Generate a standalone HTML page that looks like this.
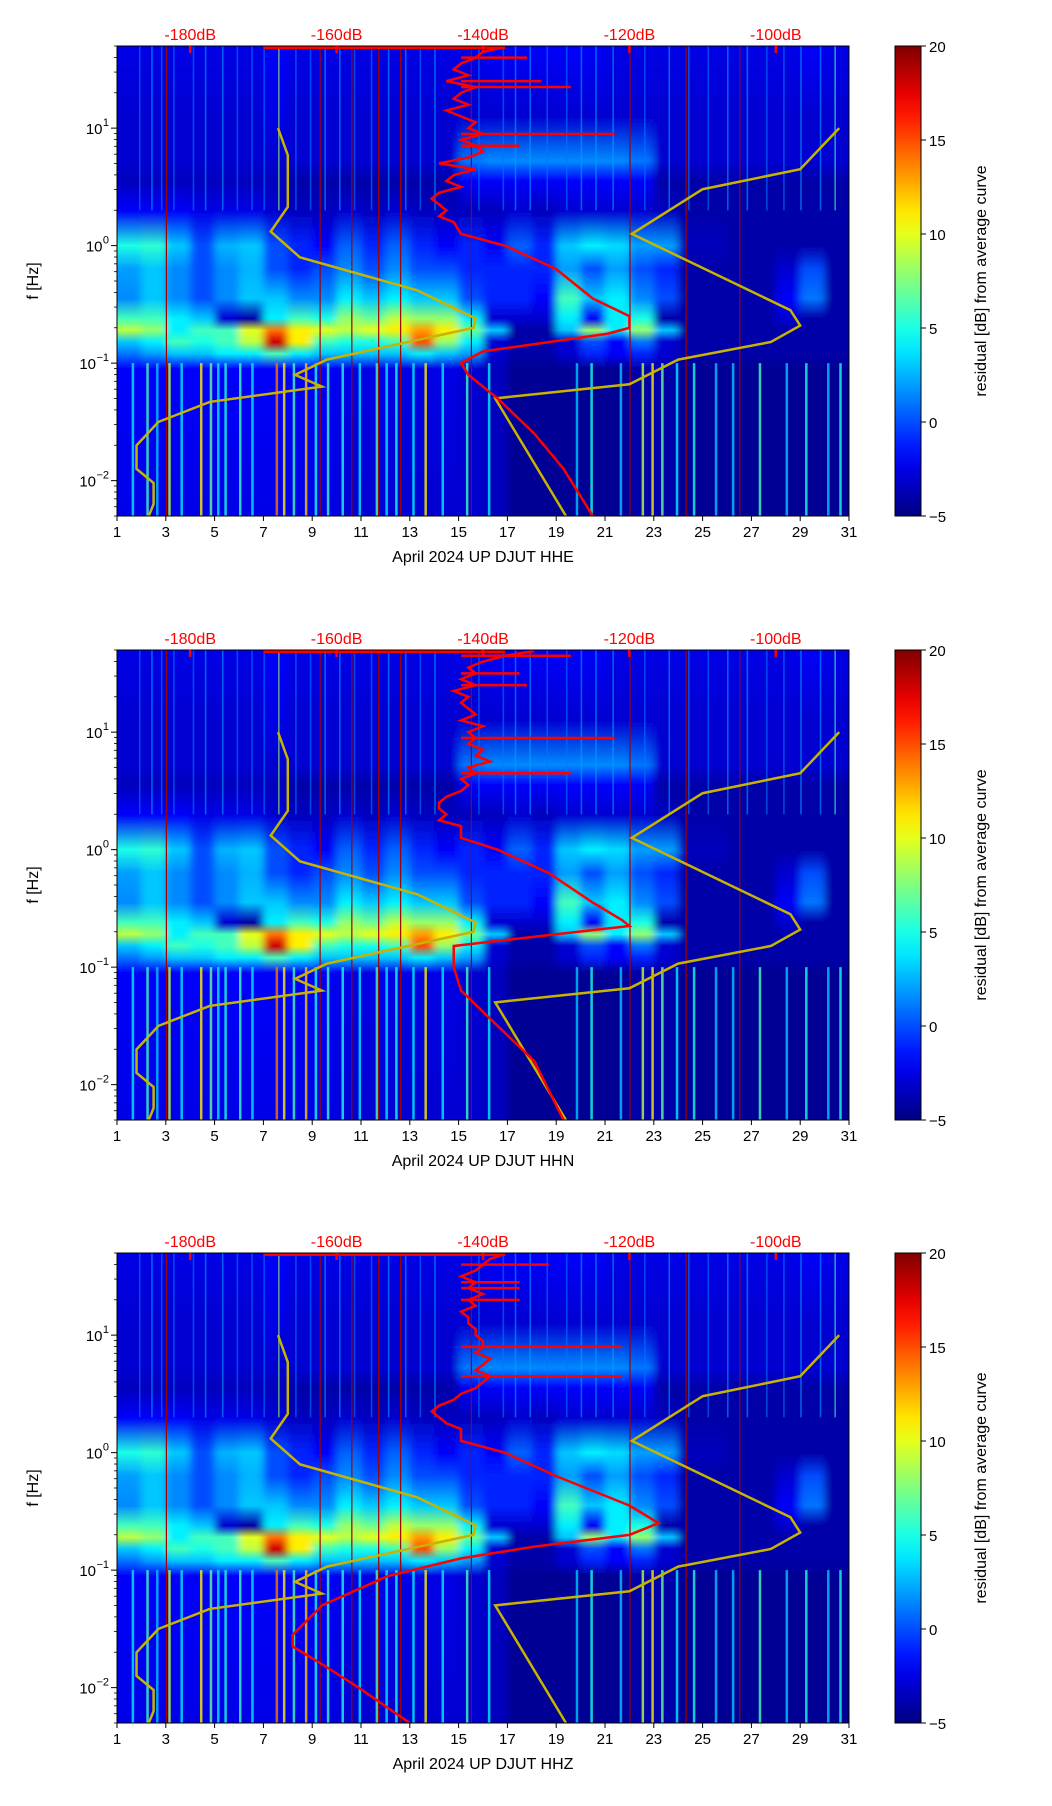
<!DOCTYPE html>
<html><head><meta charset="utf-8"><style>
html,body{margin:0;padding:0;background:#fff}
svg{display:block;font-family:"Liberation Sans","DejaVu Sans",sans-serif}
</style></head><body>
<svg id="root" width="1052" height="1806" viewBox="0 0 1052 1806" xmlns="http://www.w3.org/2000/svg"></svg>
<script>
// ---- data ----
const dayTicks = [1,3,5,7,9,11,13,15,17,19,21,23,25,27,29,31];
const decadeTicks = [1,0,-1,-2];
const dbTicks = [-180,-160,-140,-120,-100];
const cbTicks = [-5,0,5,10,15,20];
const channels = ["HHE","HHN","HHZ"];
// band centre frequencies (log10 Hz) for heatmap rows
const bandLog = [1.7,1.1,0.72,0.55,0.3,0.0,-0.2,-0.45,-0.62,-0.72,-0.82,-0.92,-1.05,-2.301];
// residual values [dB] per band, per day (day 1..30)
const row0 = [-2.5,-2.5,-2.5,-2.5,-2.5,-2.5,-2,-2.5,-2.5,-2.5,-2.5,-2.5,-2.5,-2.5,-2.5,-2,-2,-2,-2,-2,-2.5,-2.5,-2.5,-2.5,-2.5,-2.5,-2.5,-2.5,-2,-2.5];
const row1 = [-3,-3,-3,-3,-3,-3,-2.5,-3,-3,-3,-3,-3,-3,-3,-3,-3,-3,-3,-3,-3,-3,-3,-3,-3,-3,-3,-3,-3,-3,-3];
const row2 = [-3,-3,-3,-3,-3,-3,-3,-3,-3,-3,-3,-3,-3,-3,1,1.5,1.5,1.5,1.5,1.5,1.5,1,-3,-3,-3,-3,-3,-3,-3,-3];
const row3 = [-3.5,-3.5,-3.5,-3.5,-3.5,-3.5,-3.5,-4,-4,-4,-4,-4,-4,-4,-2,-2,-2,-2,-2,-2,-2,-2,-4,-4,-4,-4,-4,-4,-4,-4];
const row4 = [-2,-2,-2,-2.5,-2.5,-2.5,-3,-3.5,-3.5,-3,-3.5,-3,-3.5,-3.5,-3.5,-3.5,-3,-3.5,-3,-3,-3,-3,-3.5,-4,-4,-4,-4,-4,-4,-4];
const row5 = [5,5.5,3,0,2.5,3,0,-1,-2,0.5,-1,0.5,-1,-2,-1,-2,0.5,-1,3,4,3.5,2,2,-3.5,-3.5,-4,-4,-4,-4,-4];
const row6 = [2,3,1.5,0,1.5,2.5,0,-1,0,1.5,0,1.5,0,0,-1,-1,-1,-1,2,0,2,0,-1,-4,-4,-4,-4,-3,0,-4];
const row7 = [1.5,3,1.5,0,1.5,3,3,1.5,1.5,4,3,4,3,3,0,-1,-1,-2,6,3,4,1.5,0,-4,-4,-4,-4,-2,1,-4];
const row8 = [6,6,4,3,-3,-4,4,6,5,8,7,9,8,8,4,-3,-3,-3,4,-2,4,5,-4,-4,-4,-4,-4,-3,-4,-4];
const row9 = [9,8,4,6,6,10,14,11,10,9,10,11,13,11,7,3,-4,-4,3,8,4,8,3,-4,-4,-4,-4,-4,-4,-4];
const row10 = [3,4,6,5,6,9,18,11,6,5,5,6,15,8,4,-3,-4,-4,-3,0,-2,1,-3,-4,-4,-4,-4,-4,-4,-4];
const row11 = [1,2,3,3,4,4,6,4,3,3,3,3,4,3,2,-3,-4,-4,-3,-1,-2,-1,-3,-4,-4,-4,-4,-4,-4,-4];
const row12 = [-2,-2,-2,-2,-2,-2,-2,-2,-2,-2.5,-2.5,-2.5,-2.5,-2.5,-3,-3.5,-4.5,-4.5,-4.5,-4.5,-4.5,-4,-4,-4.5,-4.5,-4.5,-4.5,-4.5,-4.5,-4.5];
const row13 = [-2.5,-2.5,-2.5,-2.5,-2.5,-2.5,-2.5,-2.5,-2.5,-3,-3,-3,-3,-3,-3,-3.5,-4.5,-4.5,-4.5,-4.5,-4.5,-4,-4,-4.5,-4.5,-4.5,-4.5,-4.5,-4.5,-4.5];
const heat = [row0,row1,row2,row3,row4,row5,row6,row7,row8,row9,row10,row11,row12,row13];
// low-frequency streaks: day position and residual
const streakDay = [1.6,2.2,2.6,3.1,3.6,4.4,4.8,5.1,5.4,6.0,6.5,7.5,7.8,8.2,8.7,9.1,9.6,10.2,10.9,11.6,12.0,12.4,13.1,13.6,14.3,15.3,16.2,19.8,20.4,21.6,22.5,22.9,23.3,23.9,24.6,25.5,26.2,27.3,28.4,29.2,30.1,30.6];
const streakVal = [4,6,3,9,4,11,7,4,5,6,4,14,11,6,12,5,6,5,4,6,4,5,4,11,4,6,4,3,5,3,9,11,7,4,5,3,3,6,3,5,3,5];
// high-frequency streak days
const hiStreakDay = [1.9,2.4,2.8,3.3,4.1,4.6,5.3,5.9,6.5,7.0,7.6,8.3,8.9,9.5,10.1,10.7,11.4,12.1,12.8,13.4,14.0,15.8,16.8,17.3,17.9,18.6,19.4,20.0,20.6,21.3,22.6,23.6,24.4,25.2,26.0,26.8,27.6,28.3,29.0,29.8,30.4];
const hiStreakVal = [1,2,1,1,1,2,2,1,1,1,8,1,1,2,2,1,1,2,2,1,2,1,1,2,2,1,1,2,2,2,1,2,1,1,2,2,1,1,2,2,6];
// dark red vertical lines (days)
const redLineDay = [3.0,9.3,10.6,11.7,12.6,15.5,22.0,24.3,26.5];
// yellow reference curves: days and log10(f)
const yelLDay = [7.6,8.0,8.0,7.3,8.5,13.3,15.7,15.6,9.6,8.3,9.4,4.8,2.7,1.8,1.8,2.5,2.5,2.3];
const yelLLog = [1.0,0.77,0.33,0.12,-0.1,-0.38,-0.62,-0.7,-0.97,-1.1,-1.2,-1.33,-1.5,-1.7,-1.9,-2.02,-2.2,-2.301];
const yelRDay = [30.6,29.0,25.0,22.1,28.6,29.0,27.8,24.0,22.0,16.5,19.4];
const yelRLog = [1.0,0.65,0.48,0.1,-0.55,-0.68,-0.82,-0.97,-1.18,-1.3,-2.301];
// red average curves: dB and log10(f) per channel
const redTopLog = [1.69,1.65,1.6,1.55,1.5,1.45,1.4,1.35,1.3,1.25,1.2,1.15,1.1,1.05,1.0,0.95,0.9,0.85,0.8,0.75,0.7,0.65,0.6,0.55,0.5,0.45,0.4,0.35,0.3,0.25,0.2];
const redE_top = [-137,-140,-141,-143,-144,-142,-145,-141,-143,-144,-142,-145,-143,-141,-142,-140,-143,-141,-140,-142,-146,-141,-144,-145,-143,-146,-147,-146,-145,-146,-144];
const redN_top = [-133,-137,-140,-142,-141,-143,-141,-144,-142,-143,-142,-141,-143,-140,-142,-141,-142,-140,-141,-139,-142,-141,-143,-142,-143,-145,-146,-146,-145,-146,-143];
const redZ_top = [-137,-139,-140,-141,-143,-141,-142,-140,-142,-141,-143,-142,-142,-141,-141,-140,-140,-141,-139,-140,-141,-139,-140,-141,-143,-144,-146,-147,-146,-145,-143];
const redE_botLog = [0.1,0.0,-0.2,-0.45,-0.6,-0.7,-0.75,-0.83,-0.9,-1.0,-1.1,-1.3,-1.6,-1.9,-2.1,-2.301];
const redE_bot = [-143,-137,-130,-125,-120,-120,-123,-132,-140,-143,-142,-138,-133,-129,-127,-125];
const redN_botLog = [0.1,0.0,-0.2,-0.45,-0.6,-0.65,-0.72,-0.82,-1.0,-1.2,-1.5,-1.8,-2.301];
const redN_bot = [-143,-138,-131,-125,-121,-120,-130,-144,-144,-143,-138,-133,-129];
const redZ_botLog = [0.1,0.0,-0.2,-0.45,-0.6,-0.7,-0.8,-0.9,-1.05,-1.3,-1.55,-1.65,-1.8,-2.0,-2.301];
const redZ_bot = [-143,-137,-130,-120,-116,-120,-133,-143,-153,-162,-166,-166,-162,-157,-150];
// spikes: log10 f and dB reached
const spikeE_log = [1.6,1.4,1.35,0.95,0.85];
const spikeE_db = [-134,-132,-128,-122,-135];
const spikeN_log = [1.65,1.5,1.4,0.95,0.65];
const spikeN_db = [-128,-135,-134,-122,-128];
const spikeZ_log = [1.6,1.45,1.4,1.3,0.9,0.65];
const spikeZ_db = [-131,-135,-135,-135,-121,-121];
const redTops = [redE_top,redN_top,redZ_top];
const redBots = [redE_bot,redN_bot,redZ_bot];
const redBotLogs = [redE_botLog,redN_botLog,redZ_botLog];
const spikeLogs = [spikeE_log,spikeN_log,spikeZ_log];
const spikeDbs = [spikeE_db,spikeN_db,spikeZ_db];

// ---- geometry ----
const NS="http://www.w3.org/2000/svg";
const root=document.getElementById('root');
const L=117,W=732,H=470,LOGTOP=1.699,LOGBOT=-2.301;
const panelTops=[46,650,1253];
function mk(tag,attrs,parent){const e=document.createElementNS(NS,tag);for(const k in attrs)e.setAttribute(k,attrs[k]);(parent||root).appendChild(e);return e;}
function jet(v){let t=(v+5)/25;t=Math.max(0,Math.min(1,t));const c=x=>Math.round(255*Math.max(0,Math.min(1,x)));return `rgb(${c(1.5-Math.abs(4*t-3))},${c(1.5-Math.abs(4*t-2))},${c(1.5-Math.abs(4*t-1))})`;}
const dbToDay = db => 4+(db+180)*0.3;
const defs=mk('defs',{});
const flt=mk('filter',{id:'hblur',x:'-5%',y:'0',width:'110%',height:'100%'},defs);
mk('feGaussianBlur',{stdDeviation:'4 0'},flt);

panelTops.forEach((T,p)=>{
  const xs=d=>L+(d-1)/30*W;
  const ys=lf=>T+(LOGTOP-lf)/(LOGTOP-LOGBOT)*H;
  const g=mk('g',{});
  
  
  const clipId='clip'+p;
  const cp=mk('clipPath',{id:clipId},g);mk('rect',{x:L,y:T,width:W,height:H},cp);
  const clipG=mk('g',{'clip-path':`url(#${clipId})`},g);
  const hm=mk('g',{filter:'url(#hblur)'},clipG);
  
  
  for(let i=0;i<30;i++){
    const gid=`col${p}_${i}`;
    const lg=mk('linearGradient',{id:gid,x1:0,y1:0,x2:0,y2:1},defs);
    heat.forEach((row,b)=>{
      mk('stop',{offset:(LOGTOP-Math.min(LOGTOP,bandLog[b]))/(LOGTOP-LOGBOT),'stop-color':jet(row[i])},lg);
    });
    const x0=i===0?L-10:xs(i+1), x1=i===29?L+W+10:xs(i+2);
    const r=mk('rect',{x:x0,y:T,width:x1-x0+0.5,height:H,fill:`url(#${gid})`},hm);
    
    
  }
  const ov=mk('g',{},clipG);
  hiStreakDay.forEach((d,i)=>{
    const r=mk('rect',{x:xs(d),y:ys(1.7),width:1.6,height:ys(0.3)-ys(1.7),fill:jet(hiStreakVal[i]),opacity:0.6},ov);
    
    
  });
  streakDay.forEach((d,i)=>{
    const r=mk('rect',{x:xs(d),y:ys(-1.0),width:2.5,height:ys(LOGBOT)-ys(-1.0),fill:jet(streakVal[i]),opacity:0.8},ov);
    
    
  });
  redLineDay.forEach(d=>{
    const r=mk('rect',{x:xs(d),y:T,width:1.2,height:H,fill:'#a00000'},ov);
    
    
  });
  [[yelLDay,yelLLog],[yelRDay,yelRLog]].forEach(([dd,ll],k)=>{
    const pl=mk('polyline',{points:dd.map((d,i)=>xs(d)+','+ys(ll[i])).join(' '),fill:'none',stroke:'#c8b400',"stroke-width":2.5},ov);
    
    
  });
  const pts=[];
  redTops[p].forEach((db,i)=>pts.push(xs(dbToDay(db))+','+ys(redTopLog[i])));
  redBots[p].forEach((db,i)=>pts.push(xs(dbToDay(db))+','+ys(redBotLogs[p][i])));
  const rc=mk('polyline',{points:pts.join(' '),fill:'none',stroke:'#ff0000',"stroke-width":2.5},ov);
  
  
  spikeLogs[p].forEach((lf,i)=>{
    const base=dbToDay(-143);
    const s=mk('line',{x1:xs(base),x2:xs(dbToDay(spikeDbs[p][i])),y1:ys(lf),y2:ys(lf),stroke:'#ff0000','stroke-width':2.5},ov);
    
    
  });
  const tl=mk('line',{x1:xs(7),x2:xs(dbToDay(-137)),y1:T+1.5,y2:T+1.5,stroke:'#ff0000','stroke-width':3},ov);
  
  
  const fr=mk('rect',{x:L,y:T,width:W,height:H,fill:'none',stroke:'#000','stroke-width':1},g);
  
  
  dayTicks.forEach(d=>{
    mk('line',{x1:xs(d),x2:xs(d),y1:T+H,y2:T+H+5,stroke:'#000'},g);
    const t=mk('text',{x:xs(d),y:T+H+21,'font-size':15,'text-anchor':'middle'},g);
    t.textContent=d;
    
    
  });
  const xl=mk('text',{x:L+W/2,y:T+H+46,'font-size':16,'text-anchor':'middle'},g);
  xl.textContent='April 2024 UP DJUT  '+channels[p];
  
  
  decadeTicks.forEach(e=>{
    mk('line',{x1:L-6,x2:L,y1:ys(e),y2:ys(e),stroke:'#000'},g);
    const sup=e===1?'1':(e===0?'0':'\u2212'+(-e));
    const t=mk('text',{x:L-8-sup.length*6.5,y:ys(e)+6,'font-size':15,'text-anchor':'end'},g);
    t.textContent='10';
    
    
    const s=mk('text',{x:L-8,y:ys(e)-2,'font-size':11,'text-anchor':'end'},g);
    s.textContent=sup;
    for(let m=2;m<=9;m++){const lf=e+Math.log10(m);if(lf<LOGTOP)mk('line',{x1:L-3,x2:L,y1:ys(lf),y2:ys(lf),stroke:'#000','stroke-width':0.8},g);}
  });
  [5,6,7,8,9].forEach(m=>{const lf=-3+Math.log10(m);mk('line',{x1:L-3,x2:L,y1:ys(lf),y2:ys(lf),stroke:'#000','stroke-width':0.8},g);});
  const yl=mk('text',{x:0,y:0,'font-size':16,'text-anchor':'middle',transform:`translate(38,${T+H/2}) rotate(-90)`},g);
  yl.textContent='f [Hz]';
  
  
  dbTicks.forEach(db=>{
    const x=xs(dbToDay(db));
    mk('line',{x1:x,x2:x,y1:T,y2:T+7,stroke:'#ff0000','stroke-width':2.5},g);
    const t=mk('text',{x:x,y:T-6,'font-size':16,fill:'#ff0000','text-anchor':'middle'},g);
    t.textContent=db+'dB';
    
    
  });
  const cx=895,cw=26;
  const gid='cbg'+p;
  const lg=mk('linearGradient',{id:gid,x1:0,y1:1,x2:0,y2:0},defs);
  for(let i=0;i<=20;i++){mk('stop',{offset:i/20,'stop-color':jet(-5+25*i/20)},lg);}
  const cb=mk('rect',{x:cx,y:T,width:cw,height:H,fill:`url(#${gid})`,stroke:'#000','stroke-width':1},g);
  
  
  cbTicks.forEach(v=>{
    const y=T+H-(v+5)/25*H;
    mk('line',{x1:cx+cw,x2:cx+cw+5,y1:y,y2:y,stroke:'#000'},g);
    const t=mk('text',{x:cx+cw+8,y:y+6,'font-size':15},g);
    t.textContent=v<0?'\u2212'+(-v):v;
    
    
  });
  const cl=mk('text',{x:0,y:0,'font-size':16,'text-anchor':'middle',transform:`translate(986,${T+H/2}) rotate(-90)`},g);
  cl.textContent='residual [dB] from average curve';
  
  
});
</script>
</body></html>
